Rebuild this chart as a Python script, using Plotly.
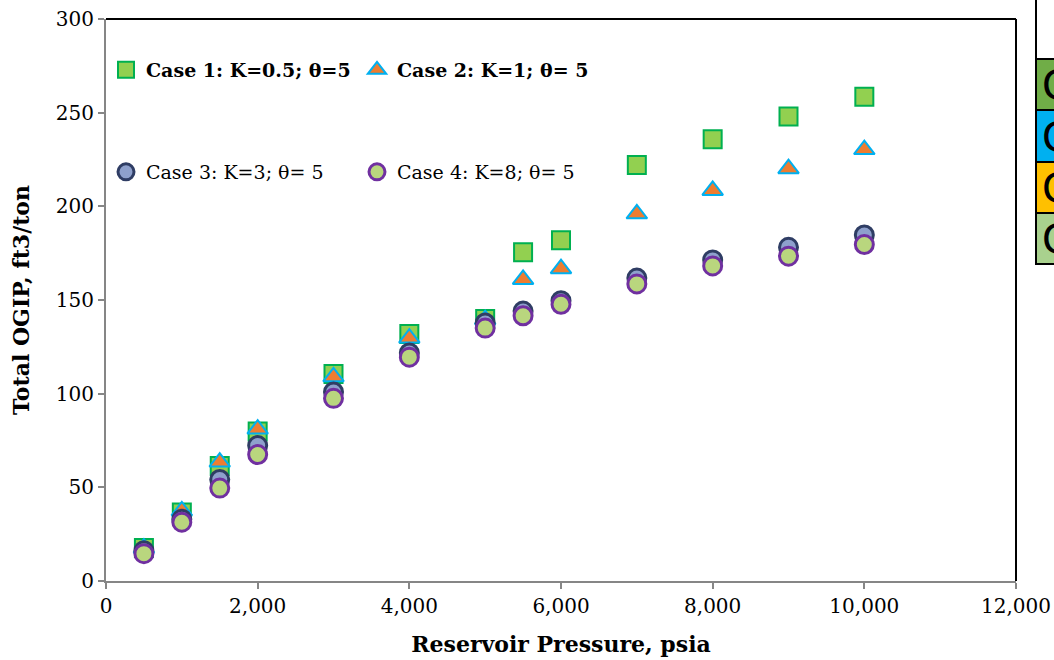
import plotly.graph_objects as go

# Reservoir pressure (psia) and total OGIP (ft3/ton) for each Langmuir case
pressure = [500, 1000, 1500, 2000, 3000, 4000, 5000, 5500, 6000, 7000, 8000, 9000, 10000]
case1_ogip = [17.6, 36.5, 61.4, 79.8, 110.5, 131.8, 139.8, 175.5, 181.9, 222.0, 235.8, 248.0, 258.5]
case2_ogip = [17.5, 37.4, 63.5, 81.1, 109.0, 129.7, 139.5, 161.0, 166.7, 196.0, 208.5, 220.1, 230.3]
case3_ogip = [16.2, 33.0, 54.2, 72.3, 100.9, 121.7, 137.7, 144.1, 149.6, 161.7, 171.4, 178.1, 184.7]
case4_ogip = [14.6, 31.4, 49.6, 67.5, 97.5, 119.5, 135.0, 141.6, 147.7, 158.6, 168.2, 173.4, 179.6]

case_names = [
    "<b>Case 1: K=0.5; θ=5</b>",
    "<b>Case 2: K=1; θ= 5</b>",
    "Case 3: K=3; θ= 5",
    "Case 4: K=8; θ= 5",
]
side_labels = ["C", "C", "C", "C"]
side_colors = ["#70AD47", "#00B0F0", "#FFC000", "#A9D18E"]

W, H = 1054, 660
L, R, T, B = 106, 1016, 19, 581          # plot area in pixels


def px(x):
    return (x - L) / (R - L)


def py(y):
    return (B - y) / (B - T)


SERIF = "DejaVu Serif"

fig = go.Figure()

styles = [
    dict(symbol="square", size=18, color="#92D050", line=dict(color="#00B050", width=2)),
    dict(symbol="triangle-up", size=18, color="#ED7D31", line=dict(color="#00B0F0", width=2)),
    dict(symbol="circle", size=18, color="#8EA0CC", line=dict(color="#2F3D64", width=3)),
    dict(symbol="circle", size=18, color="#B9D67E", line=dict(color="#7030A0", width=3)),
]
series = [case1_ogip, case2_ogip, case3_ogip, case4_ogip]
legends = ["legend", "legend2", "legend3", "legend4"]

for name, vals, st, lg in zip(case_names, series, styles, legends):
    fig.add_trace(go.Scatter(
        x=pressure, y=vals, mode="markers", name=name, marker=st,
        legend=lg, cliponaxis=False,
    ))

leg_common = dict(font=dict(family=SERIF, size=19, color="#000000"),
                  bgcolor="rgba(0,0,0,0)", borderwidth=0,
                  xanchor="left", yanchor="middle", itemsizing="trace")

fig.update_layout(
    template="none",
    width=W, height=H,
    margin=dict(l=L, r=W - R, t=T, b=H - B, pad=0, autoexpand=False),
    paper_bgcolor="white", plot_bgcolor="white",
    font=dict(family=SERIF, size=20, color="#000000"),
    showlegend=True,
    legend=dict(x=px(106), y=py(70), **leg_common),
    legend2=dict(x=px(357), y=py(70), **leg_common),
    legend3=dict(x=px(106), y=py(172), **leg_common),
    legend4=dict(x=px(357), y=py(172), **leg_common),
    xaxis=dict(
        range=[0, 12000], dtick=2000, tickformat=",", showgrid=False, zeroline=False,
        showline=True, linecolor="#868686", linewidth=2, automargin=False,
        ticks="outside", ticklen=6, tickwidth=2, tickcolor="#868686",
        tickfont=dict(family=SERIF, size=20),
        title=dict(text="<b>Reservoir Pressure, psia</b>", font=dict(family=SERIF, size=22), standoff=20),
    ),
    yaxis=dict(
        range=[0, 300], dtick=50, showgrid=False, zeroline=False,
        showline=True, linecolor="#868686", linewidth=2, automargin=False,
        ticks="outside", ticklen=6, tickwidth=2, tickcolor="#868686",
        tickfont=dict(family=SERIF, size=20),
        title=dict(text="<b>Total OGIP, ft3/ton</b>", font=dict(family=SERIF, size=22), standoff=20),
    ),
)

# black frame on the top and right of the plot area
fig.add_shape(type="line", xref="paper", yref="paper", x0=0, x1=1, y0=1, y1=1,
              line=dict(color="#000000", width=2))
fig.add_shape(type="line", xref="paper", yref="paper", x0=1, x1=1, y0=0, y1=1,
              line=dict(color="#000000", width=2))

# colour key table at the right edge
cell_edges = [-20, 59, 110, 162, 213, 264]
fig.add_shape(type="rect", xref="paper", yref="paper",
              x0=px(1036), x1=px(1080), y0=py(cell_edges[1]), y1=py(cell_edges[0]),
              fillcolor="white", line=dict(color="#000000", width=2), layer="above")
for i, (lab, col) in enumerate(zip(side_labels, side_colors)):
    top, bot = cell_edges[i + 1], cell_edges[i + 2]
    fig.add_shape(type="rect", xref="paper", yref="paper",
                  x0=px(1036), x1=px(1080), y0=py(bot), y1=py(top),
                  fillcolor=col, line=dict(color="#000000", width=2), layer="above")
    fig.add_annotation(xref="paper", yref="paper", x=px(1040), y=py((top + bot) / 2),
                       text=lab, showarrow=False, xanchor="left", yanchor="middle",
                       font=dict(family="Liberation Sans", size=44, color="#000000"))

fig.write_html("out.html")
